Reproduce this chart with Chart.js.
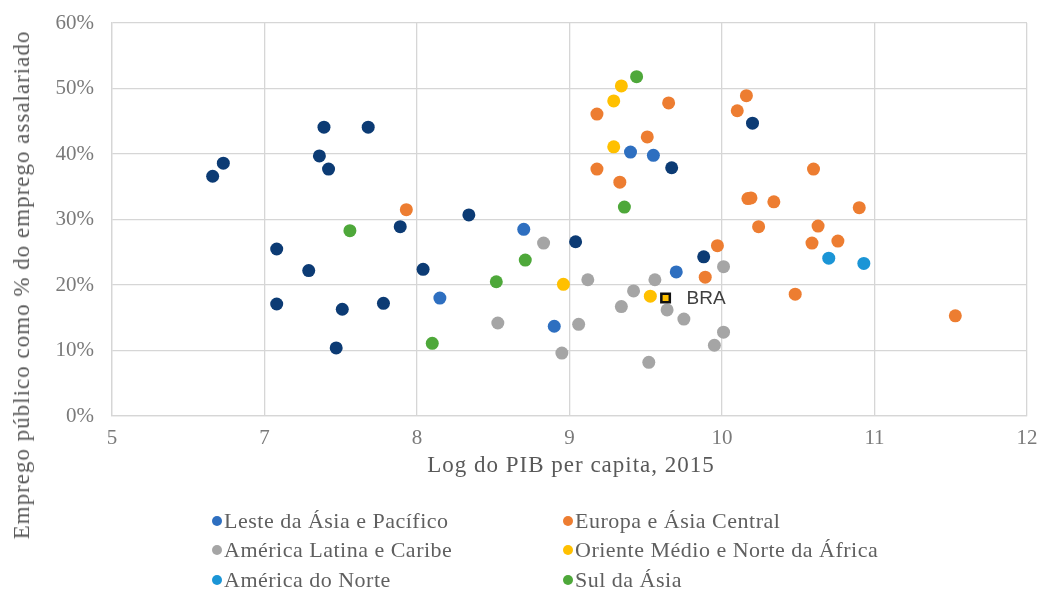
<!DOCTYPE html>
<html>
<head>
<meta charset="utf-8">
<script src="https://cdn.jsdelivr.net/npm/chart.js@4.4.1/dist/chart.umd.min.js"></script>
<style>
  html, body { margin: 0; padding: 0; background: #ffffff; }
  #wrap { position: relative; width: 1041px; height: 609px; overflow: hidden; }
  #chart { position: absolute; left: 0; top: 0; }
  .ytitle {
    position: absolute; left: 22px; top: 285px;
    transform: translate(-50%, -50%) rotate(-90deg);
    white-space: nowrap; font: 23px 'Liberation Serif', serif; letter-spacing: 1px; color: #595959;
  }
  .xtitle {
    position: absolute; left: 571px; top: 465px;
    transform: translate(-50%, -50%);
    white-space: nowrap; font: 23px 'Liberation Serif', serif; letter-spacing: 1px; color: #595959;
  }
  #legend {
    position: absolute; left: 212px; top: 506px;
    display: grid; grid-template-columns: 351px 420px; grid-auto-rows: 29.5px;
    font: 22px 'Liberation Serif', serif; letter-spacing: 0.5px; color: #5f5f5f;
  }
  .item { display: flex; align-items: center; white-space: nowrap; }
  .dot { width: 10px; height: 10px; border-radius: 50%; margin-right: 2px; flex: none; }
</style>
</head>
<body>
<div id="wrap">
  <canvas id="chart" width="1041" height="609"></canvas>
  <div class="ytitle" id="ytitle"></div>
  <div class="xtitle" id="xtitle"></div>
  <div id="legend"></div>
</div>
<script>
// Axis text
const yTitle = 'Emprego público como % do emprego assalariado';
const xTitle = 'Log do PIB per capita, 2015';
const xTickLabels = ['5', '7', '8', '9', '10', '11', '12'];
const yTickLabels = ['0%', '10%', '20%', '30%', '40%', '50%', '60%'];

// Log of GDP per capita (x) and public employment share in % (y), per region
const leste = [[8.15, 18.0], [8.70, 28.5], [8.90, 13.7], [9.40, 40.3], [9.55, 39.8], [9.70, 22.0]];
const europa = [[7.93, 31.5], [9.18, 46.1], [9.65, 47.8], [9.51, 42.6], [9.18, 37.7], [9.33, 35.7],
  [10.16, 48.9], [10.10, 46.6], [10.60, 37.7], [10.17, 33.2], [10.19, 33.3], [10.34, 32.7],
  [10.90, 31.8], [10.24, 28.9], [10.63, 29.0], [10.59, 26.4], [10.76, 26.7], [9.97, 26.0],
  [9.89, 21.2], [10.48, 18.6], [11.53, 15.3]];
const americaLatina = [[8.83, 26.4], [9.12, 20.8], [8.53, 14.2], [9.06, 14.0], [8.95, 9.6],
  [9.42, 19.1], [9.34, 16.7], [9.56, 20.8], [9.64, 16.2], [9.75, 14.8], [9.52, 8.2],
  [10.01, 22.8], [10.01, 12.8], [9.95, 10.8]];
const orienteMedio = [[9.34, 50.4], [9.29, 48.1], [9.29, 41.1], [8.96, 20.1], [9.53, 18.3]];
const americaNorte = [[10.70, 24.1], [10.93, 23.3]];
const sulAsia = [[9.44, 51.8], [7.56, 28.3], [9.36, 31.9], [8.71, 23.8], [8.52, 20.5], [8.10, 11.1]];
const africaSub = [[6.66, 36.6], [6.73, 38.6], [7.39, 44.1], [7.68, 44.1], [7.36, 39.7], [7.42, 37.7],
  [7.89, 28.9], [7.08, 25.5], [7.29, 22.2], [8.04, 22.4], [7.08, 17.1], [7.51, 16.3],
  [7.78, 17.2], [7.47, 10.4], [8.34, 30.7], [9.04, 26.6], [9.67, 37.9], [10.20, 44.7],
  [9.88, 24.3]];
const brasil = [[9.63, 18.0]];
const brasilLabel = 'BRA';

const toPts = arr => arr.map(([x, y]) => ({ x, y }));

const series = [
  { label: 'Leste da Ásia e Pacífico', data: leste, color: '#2e6fc0', legend: true },
  { label: 'Europa e Ásia Central', data: europa, color: '#ed7d31', legend: true },
  { label: 'América Latina e Caribe', data: americaLatina, color: '#a5a5a5', legend: true },
  { label: 'Oriente Médio e Norte da África', data: orienteMedio, color: '#ffc000', legend: true },
  { label: 'América do Norte', data: americaNorte, color: '#1b95d6', legend: true },
  { label: 'Sul da Ásia', data: sulAsia, color: '#4ea83a', legend: true },
  { label: 'África Subsaariana', data: africaSub, color: '#0c3b74', legend: false }
];

const datasets = series.map((s, i) => ({
  label: s.label,
  data: toPts(s.data),
  backgroundColor: s.color,
  borderColor: s.color,
  borderWidth: 0,
  pointRadius: 6.5,
  order: i + 1
}));
datasets.push({
  label: brasilLabel,
  data: toPts(brasil),
  pointStyle: 'rect',
  pointRadius: 6,
  backgroundColor: '#ffc000',
  borderColor: '#111111',
  borderWidth: 2.5,
  order: 0
});
const braIndex = datasets.length - 1;

// Text label next to the Brazil marker
const braLabelPlugin = {
  id: 'braLabel',
  afterDatasetsDraw(chart) {
    const pt = chart.getDatasetMeta(braIndex).data[0];
    const c = chart.ctx;
    c.save();
    c.font = '19px "Liberation Sans", sans-serif';
    c.fillStyle = '#3f3f3f';
    c.textBaseline = 'middle';
    c.fillText(brasilLabel, pt.x + 21, pt.y + 1);
    c.restore();
  }
};

const gridColor = '#d6d6d6';
const tickFont = { family: 'Liberation Serif', size: 21 };

new Chart(document.getElementById('chart'), {
  type: 'scatter',
  data: { datasets },
  plugins: [braLabelPlugin],
  options: {
    responsive: false,
    animation: false,
    events: [],
    layout: { padding: { left: 0, top: 23, right: 14, bottom: 153 } },
    plugins: { legend: { display: false }, tooltip: { enabled: false } },
    scales: {
      x: {
        type: 'linear', min: 6, max: 12,
        // fixed axis band; end labels may overhang the plot edges
        afterFit: s => { s.height = 40; s.paddingLeft = 0; s.paddingRight = 0; },
        ticks: {
          stepSize: 1, padding: 10, color: '#7a7a7a', font: tickFont,
          maxRotation: 0, autoSkip: false,
          callback: (v, i) => xTickLabels[i]
        },
        grid: { color: gridColor, lineWidth: 1.3, drawTicks: false },
        border: { color: gridColor, width: 1.3 }
      },
      y: {
        type: 'linear', min: 0, max: 60,
        afterFit: s => { s.width = 112; s.paddingTop = 0; s.paddingBottom = 0; },
        ticks: {
          stepSize: 10, padding: 18, color: '#7a7a7a', font: tickFont,
          callback: (v, i) => yTickLabels[i]
        },
        grid: { color: gridColor, lineWidth: 1.3, drawTicks: false },
        border: { color: gridColor, width: 1.3 }
      }
    }
  }
});

document.getElementById('ytitle').textContent = yTitle;
document.getElementById('xtitle').textContent = xTitle;

// Two-column legend, regions read row by row
const legendEl = document.getElementById('legend');
series.filter(s => s.legend).forEach(s => {
  const item = document.createElement('div');
  item.className = 'item';
  const dot = document.createElement('span');
  dot.className = 'dot';
  dot.style.background = s.color;
  const txt = document.createElement('span');
  txt.textContent = s.label;
  item.appendChild(dot);
  item.appendChild(txt);
  legendEl.appendChild(item);
});
</script>
</body>
</html>
